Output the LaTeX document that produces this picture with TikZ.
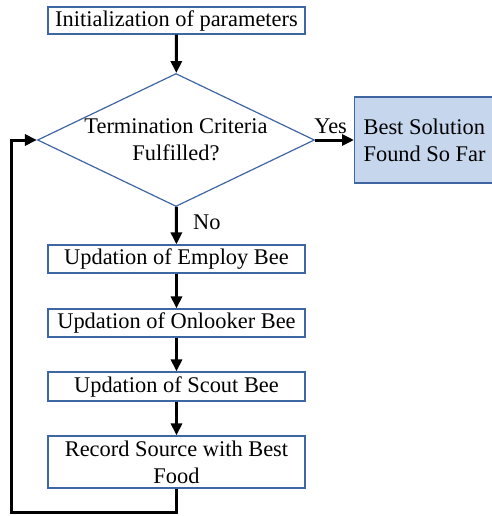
\documentclass[tikz,border=0pt]{standalone}
\usepackage{fontspec}
\setmainfont{Liberation Serif}
\usetikzlibrary{shapes.geometric,arrows.meta}
\definecolor{boxline}{RGB}{62,102,162}
\definecolor{boxfill}{RGB}{197,214,237}
\begin{document}
\begin{tikzpicture}[x=1pt,y=1pt,yscale=-1,xscale=1,
  every node/.style={font=\fontsize{22.4}{27}\selectfont},
  stepbox/.style={draw=boxline,line width=1.2pt,minimum width=257pt,inner sep=0pt,align=center},
  decision/.style={draw=boxline,line width=1.2pt,shape=diamond,shape aspect=2.08,inner sep=0pt,
                   minimum width=277pt,minimum height=133pt,align=center},
  arr/.style={line width=3pt,-{Triangle[length=12pt,width=11pt]}}]
\useasboundingbox (0,0) rectangle (491,516);

% begin part
\node [stepbox,minimum height=27pt] (init) at (176.5, 20.5) {Initialization of parameters};
\node [decision] (crit) at (176, 140) {Termination Criteria\\Fulfilled?};
\node [draw=boxline,fill=boxfill,line width=1.2pt,minimum width=140pt,minimum height=86pt,
       inner sep=0pt,align=left,anchor=west] (best) at (354, 140) {Best Solution\\Found So Far};

\node [stepbox,minimum height=28pt] (employ) at (176.5, 259) {Updation of Employ Bee};
\node [stepbox,minimum height=28pt] (onlook) at (176.5, 323) {Updation of Onlooker Bee};
\node [stepbox,minimum height=29pt] (scout) at (176.5, 386.5) {Updation of Scout Bee};
\node [stepbox,minimum height=52pt] (record) at (176.5, 462) {Record Source with Best\\Food};
\coordinate (loop) at (11.5, 512);

\draw [arr] (init) -- (crit);
\draw [arr] (crit) -- node [above=1pt,pos=0.4] (yes) {Yes} (best);
\draw [arr] (crit) -- node [right=12pt,pos=0.4] (no) {No} (employ);
\draw [arr] (employ) -- (onlook);
\draw [arr] (onlook) -- (scout);
\draw [arr] (scout) -- (record);
\draw [arr] (record.south) |- (loop) |- (crit.west);
\end{tikzpicture}
\end{document}
